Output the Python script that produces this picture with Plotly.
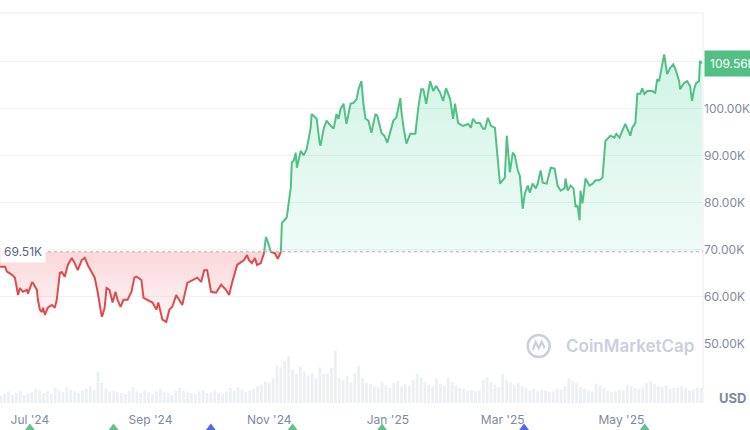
import numpy as np
import pandas as pd
import plotly.graph_objects as go

# ---------------- data ----------------
ORIGIN = "2024-07-01"          # day 0 of the price day offsets
BASELINE_K = 69.51             # period open price (thousand USD)
LAST_K = 109.56                # latest price (thousand USD)

price_days = [
    -15.4, -12.8, -11.8, -9.2, -7.7, -6.1, -5.1, -3.6, -1.5, -1.0, 1.0, 1.5, 3.6, 4.1, 5.1, 6.1, 6.7, 7.7,
    9.2, 11.3, 12.8, 13.8, 15.4, 16.4, 17.9, 19.5, 21.5, 23.0, 24.6, 26.6, 28.2, 29.7, 31.7, 33.3, 34.8,
    36.9, 37.4, 38.4, 39.4, 40.9, 42.5, 44.0, 45.0, 46.6, 48.1, 50.2, 52.2, 53.7, 54.8, 57.3, 58.4, 60.4,
    63.0, 65.0, 66.0, 68.1, 70.1, 71.7, 73.2, 75.2, 78.3, 80.9, 83.4, 86.0, 88.0, 89.6, 91.1, 93.1, 95.7,
    98.3, 100.8, 102.4, 103.9, 106.5, 108.5, 110.0, 111.6, 112.6, 114.1, 115.7, 116.7, 118.7, 120.3,
    121.3, 122.3, 123.9, 125.9, 127.4, 129.0, 129.5, 132.0, 134.1, 134.6, 135.6, 136.6, 137.2, 139.2,
    140.7, 142.3, 144.3, 144.8, 146.9, 147.4, 148.9, 149.4, 151.0, 152.5, 154.6, 156.1, 157.6, 158.6,
    159.7, 161.2, 162.7, 164.8, 166.3, 167.9, 168.9, 170.4, 171.4, 172.5, 174.0, 175.5, 177.6, 178.6,
    180.7, 182.2, 183.7, 186.8, 188.3, 190.4, 190.9, 191.9, 193.5, 195.5, 198.1, 199.6, 201.1, 202.2,
    203.7, 205.7, 207.3, 208.8, 210.9, 212.4, 213.9, 216.0, 217.5, 218.5, 220.1, 222.6, 225.2, 226.7,
    227.7, 229.3, 231.3, 232.9, 233.9, 235.4, 237.0, 239.0, 241.6, 243.1, 244.1, 245.1, 246.7, 248.2,
    249.2, 250.8, 251.8, 253.3, 254.4, 255.9, 256.9, 258.4, 260.0, 261.0, 262.5, 263.6, 265.6, 267.7,
    269.7, 271.2, 272.8, 274.8, 275.3, 276.4, 277.9, 279.4, 280.5, 281.5, 282.5, 283.0, 284.0, 285.6,
    287.6, 289.2, 290.7, 292.7, 294.3, 295.8, 298.4, 300.4, 301.4, 303.0, 304.5, 306.0, 307.6, 308.6,
    309.6, 311.2, 312.2, 313.7, 314.7, 315.8, 317.3, 319.9, 321.4, 322.4, 323.4, 325.0, 326.0, 327.5,
    329.1, 330.6, 331.6, 333.7, 334.2, 336.2, 337.8, 339.3, 340.3, 341.4, 342.4, 343.9, 344.4, 345.4,
]
price_k = [
    66.3, 66.3, 65.3, 64.6, 64.0, 60.3, 61.8, 61.0, 61.4, 60.6, 62.9, 62.9, 61.4, 59.3, 57.2, 56.7, 57.6, 56.1,
    57.6, 58.2, 57.6, 59.3, 65.0, 65.2, 64.2, 66.7, 68.2, 67.1, 65.6, 67.7, 68.2, 66.7, 65.2, 64.0, 61.0,
    55.7, 56.1, 57.6, 61.8, 61.4, 58.7, 61.0, 59.3, 57.8, 59.3, 59.3, 61.0, 64.0, 64.2, 63.5, 59.7, 59.3,
    58.7, 57.2, 58.7, 55.1, 54.6, 57.2, 57.8, 60.3, 58.2, 62.9, 63.5, 64.0, 63.1, 65.6, 65.6, 61.0, 60.8,
    62.5, 61.4, 60.3, 62.9, 66.7, 67.3, 67.7, 68.8, 67.7, 67.1, 68.2, 66.7, 67.1, 69.2,
    72.6, 71.6, 69.4, 69.2, 68.0, 69.5, 75.6, 76.8, 83.2, 88.5, 88.9, 90.6, 87.4, 91.0,
    90.0, 91.4, 95.9, 98.8, 97.8, 97.8, 92.7, 92.1, 95.7, 97.4, 96.3, 95.7, 98.8, 97.8,
    99.9, 101.0, 96.7, 101.0, 101.2, 102.0, 104.1, 105.8, 101.0, 97.8, 97.4, 94.8, 98.8, 98.4,
    94.8, 94.2, 92.7, 97.4, 98.0, 102.2, 99.5, 96.3, 92.5, 94.6, 94.6, 100.1, 104.1, 104.1,
    101.0, 105.8, 103.7, 104.8, 103.3, 101.6, 104.3, 102.0, 97.8, 101.0, 96.9, 96.3, 96.7, 95.9,
    97.8, 96.9, 96.9, 95.7, 95.7, 98.0, 96.3, 95.9, 84.0, 84.7, 85.3, 94.2, 86.4, 90.6,
    90.0, 86.8, 85.7, 78.7, 81.9, 83.6, 82.1, 84.0, 83.0, 84.0, 86.8, 84.2, 84.0, 87.4,
    87.2, 83.6, 82.5, 83.0, 85.1, 82.5, 83.6, 83.0, 79.0, 79.4, 76.2, 82.5, 79.8, 85.1,
    83.6, 84.0, 84.7, 84.7, 85.3, 93.1, 94.2, 93.8, 94.6, 93.8, 95.2, 96.7, 95.2, 94.2,
    95.9, 96.9, 103.1, 103.1, 104.3, 103.1, 103.7, 103.7, 103.3, 106.2, 105.8, 109.0, 111.5, 107.3,
    108.6, 109.4, 108.6, 105.8, 104.1, 105.4, 105.8, 104.8, 101.6, 104.1, 105.4, 105.8, 110.1, 109.56,
]

# volume (billion USD), one bar every 2 days from this date
VOLUME_START = "2024-06-16"
volume_bn = [
    18, 22, 28, 20, 24, 30, 19, 22,
    26, 35, 30, 24, 28, 22, 36, 30, 26, 38, 32, 28, 24, 30, 34,
    40, 32, 75, 48, 35, 28, 30, 26, 24, 22, 30, 38, 28, 24, 30, 26,
    22, 28, 34, 26, 24, 20, 30, 36, 28, 26, 24, 22, 28, 30, 24,
    26, 30, 24, 22, 28, 36, 30, 38, 32, 26, 30, 34, 40, 44, 52,
    48, 60, 90, 85, 100, 112, 80, 70, 88, 75, 66, 72, 60, 85, 70,
    70, 85, 125, 60, 55, 65, 50, 72, 88, 60, 48, 45, 40, 38, 50, 42,
    36, 48, 52, 40, 45, 42, 55, 70, 62, 50, 44, 40, 58, 46, 42,
    60, 50, 42, 36, 34, 30, 32, 28, 30, 55, 62, 50, 44, 38,
    70, 56, 50, 44, 48, 40, 36, 30, 34, 28, 32, 30, 26, 28, 34, 32,
    40, 60, 52, 48, 38, 34, 30, 28, 46, 42, 36, 30, 26, 28, 32,
    30, 44, 40, 36, 34, 38, 48, 52, 46, 40, 38, 42, 34, 36, 38,
    40, 36, 30, 34, 38, 36,
]

event_dates = ["2024-07-01", "2024-08-13", "2024-10-02", "2024-11-13", "2024-12-29", "2025-03-12", "2025-05-13"]
event_kind = ["green", "green", "blue", "green", "green", "blue", "green"]

x_tick_dates = ["2024-07-01", "2024-09-01", "2024-11-01", "2025-01-01", "2025-03-01", "2025-05-01"]
x_tick_labels = ["Jul '24", "Sep '24", "Nov '24", "Jan '25", "Mar '25", "May '25"]
y_tick_vals = [50, 60, 70, 80, 90, 100, 110]
y_tick_text = ["50.00K", "60.00K", "70.00K", "80.00K", "90.00K", "100.00K", ""]

# ---------------- styling ----------------
GREEN = "#52c084"
RED = "#e14a4d"
GREY_TXT = "#808a9d"
GRID = "#eff2f5"
FONT = "Inter"

# insert baseline-crossing points so the two colours meet exactly on the baseline
d = np.array(price_days, float)
p = np.array(price_k, float)
xs, ys = [d[0]], [p[0]]
for i in range(1, len(p)):
    if (p[i - 1] - BASELINE_K) * (p[i] - BASELINE_K) < 0:
        t = (BASELINE_K - p[i - 1]) / (p[i] - p[i - 1])
        xs.append(d[i - 1] + t * (d[i] - d[i - 1]))
        ys.append(BASELINE_K)
    xs.append(d[i])
    ys.append(p[i])
xs = np.array(xs)
ys = np.array(ys)
dates = pd.Timestamp(ORIGIN) + pd.to_timedelta(xs, unit="D")
line_up = np.where(ys >= BASELINE_K, ys, np.nan)
line_dn = np.where(ys <= BASELINE_K, ys, np.nan)
fill_up = np.maximum(ys, BASELINE_K)
fill_dn = np.minimum(ys, BASELINE_K)
base_arr = np.full(len(ys), BASELINE_K)

vol_dates = pd.date_range(VOLUME_START, periods=len(volume_bn), freq="2D")

fig = go.Figure()

fig.add_trace(go.Bar(x=vol_dates, y=volume_bn, yaxis="y2", marker_color="#edf0f3",
                     marker_line_width=0, width=1.45 * 86400000, hoverinfo="skip"))

fig.add_trace(go.Scatter(x=dates, y=base_arr, mode="lines", line=dict(width=0), hoverinfo="skip"))
fig.add_trace(go.Scatter(x=dates, y=fill_up, mode="lines", line=dict(width=0), fill="tonexty",
                         fillgradient=dict(type="vertical", start=BASELINE_K, stop=112,
                                           colorscale=[[0, "rgba(22,199,132,0.07)"], [1, "rgba(22,199,132,0.2)"]]),
                         hoverinfo="skip"))
fig.add_trace(go.Scatter(x=dates, y=base_arr, mode="lines", line=dict(width=0), hoverinfo="skip"))
fig.add_trace(go.Scatter(x=dates, y=fill_dn, mode="lines", line=dict(width=0), fill="tonexty",
                         fillgradient=dict(type="vertical", start=BASELINE_K, stop=53,
                                           colorscale=[[0, "rgba(234,57,67,0.2)"], [1, "rgba(234,57,67,0.02)"]]),
                         hoverinfo="skip"))
fig.add_trace(go.Scatter(x=dates, y=line_up, mode="lines", line=dict(color=GREEN, width=2), connectgaps=False))
fig.add_trace(go.Scatter(x=dates, y=line_dn, mode="lines", line=dict(color=RED, width=2), connectgaps=False))

# event markers sit at the very bottom edge, only their tips visible
fig.add_trace(go.Scatter(x=event_dates, y=[0] * len(event_dates), yaxis="y3", mode="markers",
                         marker=dict(symbol="triangle-up", size=10, line=dict(width=0),
                                     color=["#5cc48c" if k == "green" else "#4a6cf0" for k in event_kind]),
                         cliponaxis=False, hoverinfo="skip"))

DOM0 = 27 / 417
fig.update_layout(
    width=750, height=430,
    margin=dict(l=0, r=44, t=13, b=0),
    paper_bgcolor="white", plot_bgcolor="white",
    showlegend=False,
    font=dict(family=FONT, color=GREY_TXT, size=12),
    xaxis=dict(type="date", range=["2024-06-15 15:00", "2025-06-11 23:00"], anchor="y",
               tickvals=x_tick_dates, ticktext=x_tick_labels, showgrid=False, zeroline=False,
               ticks="", ticklabelstandoff=8, tickfont=dict(size=12, color=GREY_TXT), fixedrange=True),
    yaxis=dict(domain=[DOM0, 1], range=[37.34, 120.3], side="right", tickvals=y_tick_vals,
               ticktext=y_tick_text, gridcolor=GRID, gridwidth=1, zeroline=False, ticks="",
               tickfont=dict(size=12, color=GREY_TXT)),
    yaxis2=dict(domain=[DOM0, DOM0 + 0.15], range=[0, 150], visible=False),
    yaxis3=dict(domain=[0, 0.06], range=[-0.06, 1], visible=False),
)

# frame lines (top and right)
fig.add_shape(type="line", xref="paper", yref="paper", x0=0, x1=1, y0=1, y1=1,
              line=dict(color="#e9ecf0", width=1))
fig.add_shape(type="line", xref="paper", yref="paper", x0=1, x1=1, y0=DOM0, y1=1,
              line=dict(color="#e9ecf0", width=1))
# dotted baseline
fig.add_shape(type="line", xref="paper", yref="y", x0=0, x1=1, y0=BASELINE_K, y1=BASELINE_K,
              line=dict(color="#a7afbd", width=1, dash="dot"))

# watermark logo
LOGO = "#c9d0dc"
fig.add_shape(type="circle", xref="paper", yref="paper", xsizemode="pixel", ysizemode="pixel",
              xanchor=541 / 706, yanchor=(430 - 346) / 417, x0=-11, x1=11, y0=-11, y1=11,
              line=dict(color=LOGO, width=2.5))
fig.add_shape(type="path", xref="paper", yref="paper", xsizemode="pixel", ysizemode="pixel",
              xanchor=541 / 706, yanchor=(430 - 346) / 417,
              path="M -6,-4 L -3,4 L 0,-2 L 3,4 L 6,-2", line=dict(color=LOGO, width=2.2))
fig.add_annotation(xref="paper", yref="paper", x=566 / 706, y=(430 - 346) / 417, xanchor="left",
                   yanchor="middle", text="CoinMarketCap", showarrow=False,
                   font=dict(family=FONT, size=17, color=LOGO, weight=600))

# labels
fig.add_annotation(xref="paper", yref="y", x=0, y=BASELINE_K, xanchor="left", yanchor="middle",
                   text=f"{BASELINE_K:.2f}K", showarrow=False, bgcolor="white", borderpad=3,
                   font=dict(family=FONT, size=12, color="#58667e"))
fig.add_annotation(xref="paper", yref="y", x=1, y=LAST_K, xanchor="left", yanchor="middle",
                   xshift=1, text=f"{LAST_K:.2f}K", showarrow=False, bgcolor=GREEN, borderpad=5,
                   font=dict(family=FONT, size=12, color="white"))
fig.add_annotation(xref="paper", yref="paper", x=720 / 706, y=(430 - 398) / 417, xanchor="left",
                   yanchor="middle", text="<b>USD</b>", showarrow=False,
                   font=dict(family=FONT, size=13, color=GREY_TXT))

# the page's default 8px body margin would shift the 750x430 figure; remove it
fig.write_html("out.html", config={"displayModeBar": False},
               post_script="document.body.style.margin='0';")
